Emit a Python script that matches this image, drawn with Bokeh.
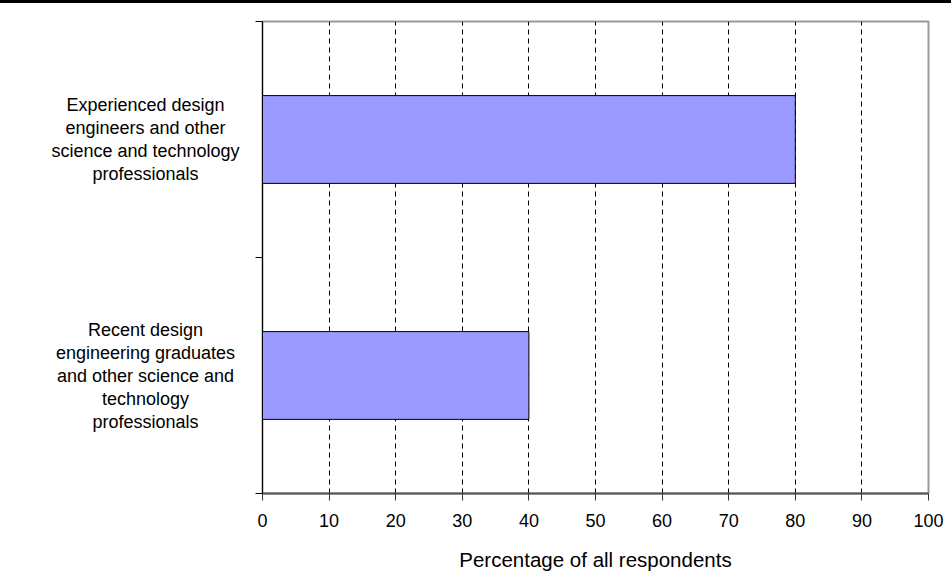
from bokeh.plotting import figure
from bokeh.models import FixedTicker, Range1d, Div, ColumnDataSource
from bokeh.core.properties import value
from bokeh.layouts import column, row
from bokeh.embed import file_html
from bokeh.resources import INLINE

categories = ["Recent design\nengineering graduates\nand other science and\ntechnology\nprofessionals",
              "Experienced design\nengineers and other\nscience and technology\nprofessionals"]
positions = [0.5, 1.5]
values = [40, 80]
x_ticks = [0, 10, 20, 30, 40, 50, 60, 70, 80, 90, 100]
x_title = "Percentage of all respondents"

FONT = "Liberation Sans"
H = 570
TOP = 18
BOTTOM = 80

# left panel holding the category labels
lab = figure(width=242, height=H, output_backend="svg", toolbar_location=None,
             x_range=Range1d(0, 242), y_range=Range1d(0, 2),
             x_axis_type=None, y_axis_type=None,
             min_border_left=0, min_border_right=0, min_border_top=TOP, min_border_bottom=BOTTOM)
lab.outline_line_color = None
lab.grid.visible = False
src = ColumnDataSource(dict(y=positions, text=categories, x=[145, 145]))
lab.text(x="x", y="y", text="text", source=src,
         text_align="center", text_baseline="middle",
         text_font=value(FONT), text_font_size="18px", text_color="black",
         text_line_height=1.15)

p = figure(width=709, height=H, output_backend="svg", toolbar_location=None,
           x_range=Range1d(0, 100), y_range=Range1d(0, 2),
           min_border_left=20, min_border_right=23, min_border_top=TOP, min_border_bottom=BOTTOM)

p.hbar(y=positions, right=values, left=0, height=0.372,
       fill_color="#9999FF", line_color="black", line_width=1)

# x axis
p.xaxis.ticker = FixedTicker(ticks=x_ticks)
p.xaxis.axis_label = x_title
p.xaxis.axis_label_text_font = FONT
p.xaxis.axis_label_text_font_size = "20.5px"
p.xaxis.axis_label_text_font_style = "normal"
p.xaxis.axis_label_text_color = "black"
p.xaxis.axis_label_standoff = 18
p.xaxis.major_label_text_font = FONT
p.xaxis.major_label_text_font_size = "18px"
p.xaxis.major_label_text_color = "black"
p.xaxis.major_label_standoff = 13
p.xaxis.axis_line_color = "#555555"
p.xaxis.axis_line_width = 2
p.xaxis.major_tick_line_color = "#333333"
p.xaxis.major_tick_out = 7
p.xaxis.major_tick_in = 0
p.xaxis.minor_tick_line_color = None

# y axis: tick marks at category boundaries only
p.yaxis.ticker = FixedTicker(ticks=[], minor_ticks=[0, 1, 2])
p.yaxis.major_tick_out = 0
p.yaxis.major_tick_in = 0
p.yaxis.minor_tick_out = 7
p.yaxis.minor_tick_in = 0
p.yaxis.minor_tick_line_color = "black"
p.yaxis.axis_line_color = "black"

# grid
p.xgrid.ticker = FixedTicker(ticks=x_ticks[1:-1])
p.xgrid.grid_line_color = "black"
p.xgrid.grid_line_dash = "5 4"
p.xgrid.grid_line_width = 1
p.ygrid.grid_line_color = None

p.outline_line_color = "#999999"
p.outline_line_width = 2
p.background_fill_color = "white"
p.border_fill_color = "white"

rule = Div(text="", width=951, height=3, margin=(0, 0, 0, 0),
           styles={"background-color": "black"})

layout = column(rule, row(lab, p, spacing=0), spacing=0)
open("out.html", "w").write(file_html(layout, INLINE))
